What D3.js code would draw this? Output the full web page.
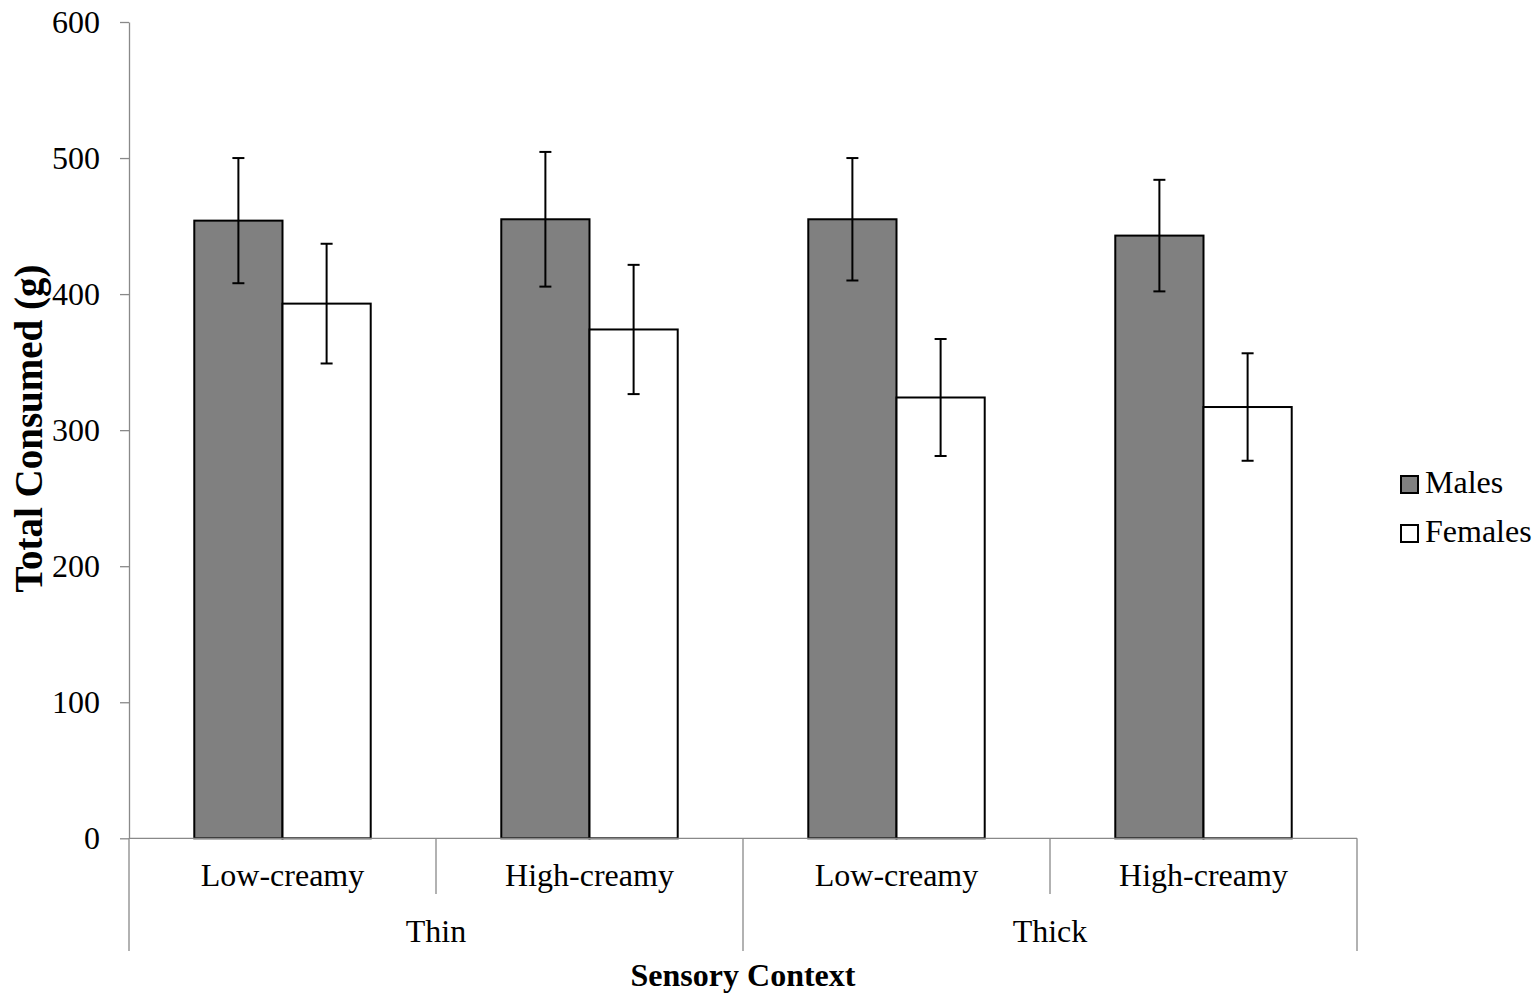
<!DOCTYPE html>
<html>
<head>
<meta charset="utf-8">
<script src="https://cdn.jsdelivr.net/npm/d3@7"></script>
<style>
  html, body { margin: 0; padding: 0; background: #fff; }
  svg text { font-family: "Liberation Serif", "Times New Roman", serif; fill: #000; }
</style>
</head>
<body>
<svg id="chart" width="1539" height="997"></svg>
<script>
// Total consumed (g) by sensory context, males vs females, with error bars
const creaminess = ["Low-creamy", "High-creamy", "Low-creamy", "High-creamy"];
const texture = ["Thin", "Thin", "Thick", "Thick"];
const textureGroups = ["Thin", "Thick"];
const seriesNames = ["Males", "Females"];
const malesValues = [454, 455, 455, 443];
const femalesValues = [393, 374, 324, 317];
const malesError = [46, 49.5, 45, 41];
const femalesError = [44, 47.5, 43, 39.5];
const yTicks = [0, 100, 200, 300, 400, 500, 600];

const seriesFill = { Males: "#808080", Females: "#ffffff" };
const seriesData = {
  Males: { values: malesValues, errors: malesError },
  Females: { values: femalesValues, errors: femalesError }
};

const svg = d3.select("#chart");
const plotLeft = 129, plotRight = 1357, plotTop = 22, plotBottom = 838.3;
const axisColor = "#898989";
const labelSize = "32px";

const y = d3.scaleLinear().domain([0, 600]).range([plotBottom, plotTop]);
const x0 = d3.scaleBand().domain(d3.range(creaminess.length)).range([plotLeft, plotRight]).padding(0);
const x1 = d3.scaleBand().domain(seriesNames).range([0, x0.bandwidth()])
  .paddingInner(0).paddingOuter(0.74);

// Y axis
const yAxis = svg.append("g")
  .attr("transform", `translate(${plotLeft},0)`)
  .call(d3.axisLeft(y).tickValues(yTicks).tickSize(9).tickSizeOuter(0).tickPadding(20));
yAxis.select(".domain").attr("stroke", axisColor).attr("stroke-width", 1.3);
yAxis.selectAll(".tick line").attr("stroke", axisColor).attr("stroke-width", 1.3);
yAxis.selectAll(".tick text")
  .style("font-family", '"Liberation Serif", "Times New Roman", serif')
  .style("font-size", labelSize).attr("fill", "#000");

// Bars
seriesNames.forEach(name => {
  const d = seriesData[name];
  svg.append("g").selectAll("rect")
    .data(d.values)
    .join("rect")
    .attr("x", (v, i) => x0(i) + x1(name))
    .attr("y", v => y(v))
    .attr("width", x1.bandwidth())
    .attr("height", v => y(0) - y(v))
    .attr("fill", seriesFill[name])
    .attr("stroke", "#000")
    .attr("stroke-width", 2);
});

// Horizontal category axis line
svg.append("line")
  .attr("x1", plotLeft).attr("x2", plotRight)
  .attr("y1", y(0)).attr("y2", y(0))
  .attr("stroke", axisColor).attr("stroke-width", 1.3);

// Error bars
seriesNames.forEach(name => {
  const d = seriesData[name];
  const g = svg.append("g").attr("stroke", "#000").attr("stroke-width", 2);
  d.values.forEach((v, i) => {
    const cx = x0(i) + x1(name) + x1.bandwidth() / 2;
    const e = d.errors[i];
    g.append("line").attr("x1", cx).attr("x2", cx).attr("y1", y(v + e)).attr("y2", y(v - e));
    g.append("line").attr("x1", cx - 6).attr("x2", cx + 6).attr("y1", y(v + e)).attr("y2", y(v + e));
    g.append("line").attr("x1", cx - 6).attr("x2", cx + 6).attr("y1", y(v - e)).attr("y2", y(v - e));
  });
});

// Category dividers: short between creaminess levels, long between texture groups
const boundaries = d3.range(creaminess.length + 1);
boundaries.forEach(k => {
  const bx = k < creaminess.length ? x0(k) : x0(k - 1) + x0.bandwidth();
  const isGroupEdge = k === 0 || k === creaminess.length || texture[k] !== texture[k - 1];
  svg.append("line")
    .attr("x1", bx).attr("x2", bx)
    .attr("y1", y(0)).attr("y2", isGroupEdge ? 951 : 894)
    .attr("stroke", axisColor).attr("stroke-width", 1.3);
});

// Creaminess labels
svg.append("g").selectAll("text")
  .data(creaminess)
  .join("text")
  .attr("x", (c, i) => x0(i) + x0.bandwidth() / 2)
  .attr("y", 886)
  .attr("text-anchor", "middle")
  .style("font-size", labelSize)
  .text(c => c);

// Texture group labels
textureGroups.forEach(t => {
  const idx = texture.map((v, i) => v === t ? i : -1).filter(i => i >= 0);
  const gx0 = x0(idx[0]);
  const gx1 = x0(idx[idx.length - 1]) + x0.bandwidth();
  svg.append("text")
    .attr("x", (gx0 + gx1) / 2)
    .attr("y", 942)
    .attr("text-anchor", "middle")
    .style("font-size", labelSize)
    .text(t);
});

// Axis titles
svg.append("text")
  .attr("x", (plotLeft + plotRight) / 2)
  .attr("y", 986)
  .attr("text-anchor", "middle")
  .style("font-size", "32px")
  .style("font-weight", "bold")
  .text("Sensory Context");

svg.append("text")
  .attr("transform", `translate(42,${(265 + 592) / 2}) rotate(-90)`)
  .attr("text-anchor", "middle")
  .style("font-size", "39px")
  .style("font-weight", "bold")
  .text("Total Consumed (g)");

// Legend
const legend = svg.append("g");
seriesNames.forEach((name, i) => {
  const ly = 493 + i * 49;
  legend.append("rect")
    .attr("x", 1401).attr("y", ly - 17)
    .attr("width", 17).attr("height", 17)
    .attr("fill", seriesFill[name])
    .attr("stroke", "#000").attr("stroke-width", 2);
  legend.append("text")
    .attr("x", 1425).attr("y", ly)
    .style("font-size", labelSize)
    .text(name);
});
</script>
</body>
</html>
